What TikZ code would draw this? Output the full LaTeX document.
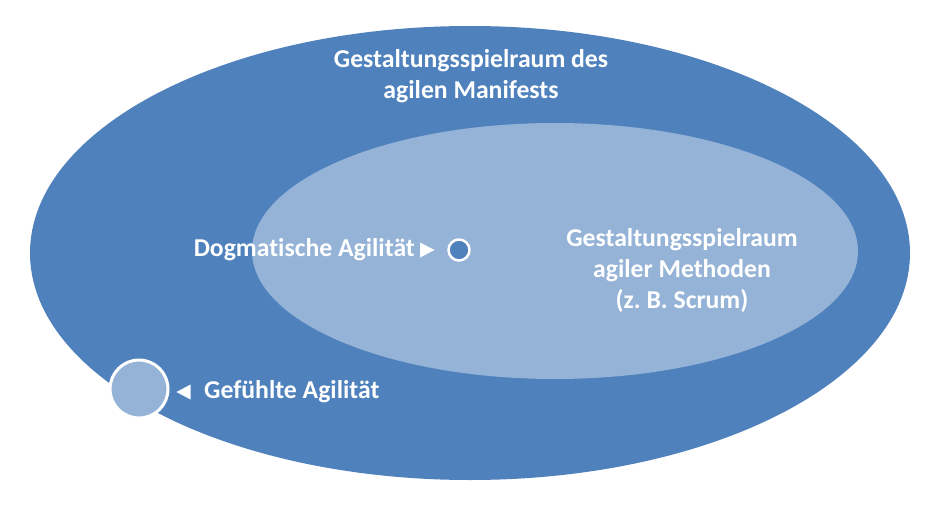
\documentclass[tikz,border=0pt]{standalone}
\usepackage{fontspec}
\setmainfont[Ligatures=NoCommon]{Carlito}
\usetikzlibrary{calc}
\definecolor{outerblue}{HTML}{4F81BD}
\definecolor{innerblue}{HTML}{95B3D7}
\frenchspacing
\begin{document}
\begin{tikzpicture}[x=1pt,y=-1pt,
  lbl/.style={text=white,font=\bfseries\fontsize{25.7}{31}\selectfont,align=center,inner sep=0pt},
  tri/.style={fill=white,draw=none}]
\useasboundingbox (0,0) rectangle (945,506);
\fill[white] (0,0) rectangle (945,506);
\fill[outerblue] (470,253) ellipse [x radius=440pt, y radius=227pt];
\fill[innerblue] (555,251) ellipse [x radius=303pt, y radius=128pt];
\node[lbl] (manifest) at (471,76) {Gestaltungsspielraum des\\agilen Manifests};
\node[lbl] (methoden) at (682,270) {Gestaltungsspielraum\\agiler Methoden\\(z. B. Scrum)};
\node[lbl,anchor=east] (dogma) at (415,250) {Dogmatische Agilität};
\node[circle,fill=outerblue,draw=white,line width=2.5pt,minimum size=21pt,inner sep=0pt] (dot) at (459,250) {};
\coordinate (dtri) at (427,250);
\fill[tri] ($(dtri)+(-7,-7.5)$) -- ($(dtri)+(7.5,0)$) -- ($(dtri)+(-7,7.5)$) -- cycle;
\node[circle,fill=innerblue,draw=white,line width=3pt,minimum size=58pt,inner sep=0pt] (felt) at (139,389) {};
\coordinate (ftri) at (184,392);
\fill[tri] ($(ftri)+(6.5,-7.5)$) -- ($(ftri)+(-7.5,0)$) -- ($(ftri)+(6.5,7.5)$) -- cycle;
\node[lbl,anchor=west] (gefuehlt) at (204,392) {Gefühlte Agilität};
\end{tikzpicture}
\end{document}
